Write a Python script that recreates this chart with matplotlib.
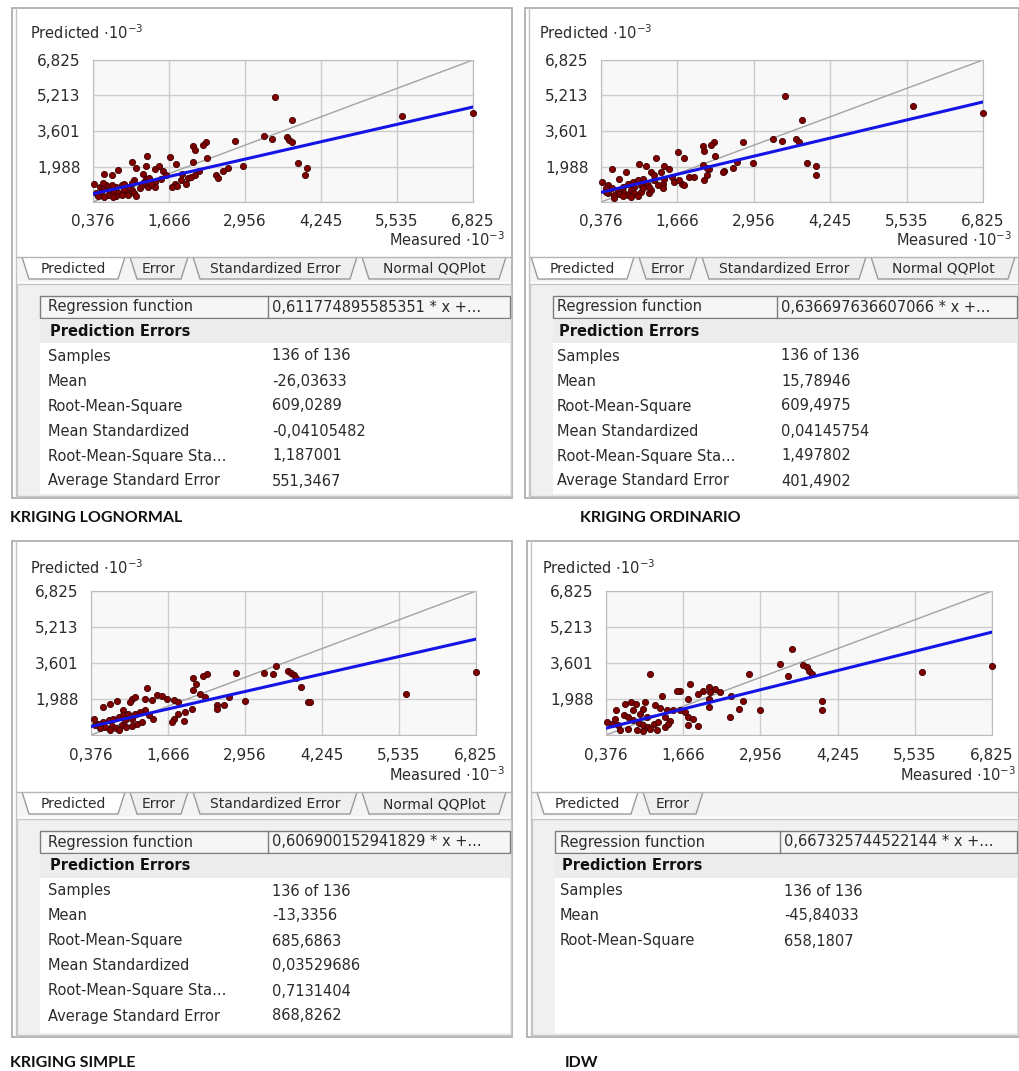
import matplotlib
matplotlib.use("Agg")
import matplotlib.pyplot as plt
from matplotlib.patches import Rectangle, Polygon
import numpy as np

# ---------------- data ----------------
titles = ["KRIGING LOGNORMAL", "KRIGING ORDINARIO", "KRIGING SIMPLE", "IDW"]
x_tick_values = [0.376, 1.666, 2.956, 4.245, 5.535, 6.825]
x_tick_labels = ["0,376", "1,666", "2,956", "4,245", "5,535", "6,825"]
y_tick_values = [0.376, 1.988, 3.601, 5.213, 6.825]
y_tick_labels = ["", "1,988", "3,601", "5,213", "6,825"]

slopes = [0.611774895585351, 0.636697636607066, 0.606900152941829, 0.667325744522144]
intercepts = [0.515, 0.575, 0.53, 0.43]
regression_text = ["0,611774895585351 * x +...", "0,636697636607066 * x +...",
                   "0,606900152941829 * x +...", "0,667325744522144 * x +..."]

row_labels = ["Samples", "Mean", "Root-Mean-Square", "Mean Standardized",
              "Root-Mean-Square Sta...", "Average Standard Error"]
lognormal_values = ["136 of 136", "-26,03633", "609,0289", "-0,04105482", "1,187001", "551,3467"]
ordinario_values = ["136 of 136", "15,78946", "609,4975", "0,04145754", "1,497802", "401,4902"]
simple_values = ["136 of 136", "-13,3356", "685,6863", "0,03529686", "0,7131404", "868,8262"]
idw_values = ["136 of 136", "-45,84033", "658,1807"]

tabs_full = ["Predicted", "Error", "Standardized Error", "Normal QQPlot"]
tabs_idw = ["Predicted", "Error"]

# (measured, predicted) in units of 10^-3
lognormal_points = [
    (3.46, 5.14), (3.76, 4.11), (5.62, 4.26), (6.825, 4.44), (3.27, 3.37), (3.41, 3.24),
    (3.66, 3.31), (3.71, 3.19), (3.75, 3.09), (2.79, 3.15), (2.29, 3.09), (2.25, 2.97),
    (2.07, 2.90), (2.10, 2.72), (2.31, 2.38), (3.86, 2.14), (4.00, 1.94), (3.98, 1.62),
    (2.93, 2.02), (2.66, 1.94), (2.59, 1.80), (2.46, 1.62), (2.49, 1.48), (2.07, 2.17),
    (2.18, 1.77), (2.10, 1.58), (1.98, 1.48), (1.87, 1.36), (1.76, 1.21), (1.71, 1.07),
    (1.79, 2.09), (1.68, 2.41), (1.30, 2.46), (1.03, 2.17), (1.11, 1.92), (1.28, 2.02),
    (1.42, 1.87), (1.50, 2.02), (1.56, 1.80), (0.80, 1.83), (0.57, 1.65), (0.69, 1.62),
    (1.22, 1.65), (1.42, 1.28), (1.42, 1.07), (1.28, 1.43), (1.08, 1.36),
    (0.40, 1.18), (0.49, 1.07), (0.57, 0.99), (0.66, 0.92), (0.74, 0.89), (0.80, 0.80),
    (0.88, 0.85), (0.94, 0.77), (1.03, 0.92), (1.08, 0.80), (1.17, 0.99), (1.20, 1.14),
    (0.97, 1.07), (0.86, 1.14), (0.77, 1.07), (0.69, 1.14), (0.91, 1.21), (1.03, 1.24),
    (0.52, 0.85), (0.43, 0.77), (0.46, 0.63), (0.63, 0.70), (0.77, 0.66), (0.86, 0.70),
    (0.97, 0.70), (1.11, 0.66), (0.72, 0.60), (0.57, 0.60), (1.31, 1.07), (1.36, 1.21),
    (1.25, 1.28), (0.91, 0.95), (0.60, 1.14), (0.55, 1.24), (1.33, 1.48), (1.53, 1.43),
    (1.62, 1.58), (1.89, 1.65), (2.04, 1.53), (1.95, 1.21), (1.81, 1.09),
]
ordinario_points = [
    (3.48, 5.21), (3.77, 4.11), (5.64, 4.73), (6.825, 4.44), (3.28, 3.22), (3.43, 3.15),
    (3.67, 3.24), (3.72, 3.12), (2.78, 3.09), (2.29, 3.09), (2.24, 2.97), (2.09, 2.94),
    (2.12, 2.68), (2.30, 2.46), (3.86, 2.14), (4.00, 2.02), (4.00, 1.62), (2.95, 2.14),
    (2.68, 2.17), (2.60, 1.92), (2.45, 1.80), (2.43, 1.73), (2.09, 2.05), (2.20, 1.87),
    (2.17, 1.62), (2.12, 1.36), (1.95, 1.53), (1.87, 1.50), (1.75, 1.21), (1.78, 1.14),
    (1.67, 2.65), (1.78, 2.36), (1.30, 2.36), (1.02, 2.12), (1.13, 2.02), (1.44, 2.02),
    (1.53, 1.87), (0.57, 1.87), (0.80, 1.73), (1.22, 1.73), (1.39, 1.73), (0.68, 1.43),
    (1.58, 1.50), (1.42, 1.21), (1.42, 0.99), (1.19, 0.77), (0.40, 1.28), (2.17, 1.94),
    (0.49, 1.14), (0.57, 0.99), (0.66, 0.92), (0.74, 1.07), (0.83, 1.21), (0.91, 1.28),
    (1.00, 1.36), (1.08, 1.43), (0.94, 1.07), (1.05, 1.14), (1.16, 1.21), (1.27, 1.36),
    (1.33, 1.14), (0.88, 0.92), (0.77, 0.80), (0.68, 0.74), (0.60, 0.70), (0.49, 0.77),
    (0.46, 0.85), (0.83, 0.70), (0.94, 0.77), (1.05, 0.85), (1.22, 0.92), (0.74, 0.63),
    (0.88, 0.60), (1.00, 0.66), (0.60, 0.55), (0.46, 0.99), (1.08, 0.99), (1.19, 1.07),
    (1.44, 1.43), (1.27, 1.58), (1.61, 1.28), (1.70, 1.36),
]
simple_points = [
    (6.825, 3.21), (5.66, 2.21), (3.48, 3.46), (3.28, 3.16), (3.43, 3.12), (3.67, 3.26),
    (3.72, 3.16), (3.77, 3.06), (3.81, 2.94), (3.89, 2.53), (4.01, 1.84), (4.04, 1.84),
    (2.81, 3.16), (2.32, 3.09), (2.26, 3.01), (2.09, 2.94), (2.13, 2.68), (2.08, 2.38),
    (2.21, 2.21), (2.29, 2.06), (2.95, 1.89), (2.68, 2.06), (2.61, 1.74), (2.49, 1.70),
    (2.49, 1.55), (1.31, 2.47), (1.06, 1.99), (1.03, 1.84), (1.11, 2.06), (1.48, 2.18),
    (1.56, 2.13), (1.65, 1.99), (1.76, 1.94), (1.84, 1.84), (0.81, 1.89), (0.70, 1.77),
    (0.58, 1.62), (1.28, 1.99), (1.39, 1.94), (1.95, 1.40), (2.06, 1.55), (1.84, 1.33),
    (1.76, 1.11), (1.73, 0.96), (1.94, 1.01), (1.42, 1.11), (1.28, 1.50), (0.92, 1.48),
    (0.42, 1.11),
    (0.50, 0.89), (0.58, 0.96), (0.67, 1.03), (0.75, 1.11), (0.84, 1.18), (0.92, 1.26),
    (1.00, 1.30), (1.11, 1.33), (1.20, 1.40), (0.61, 0.74), (0.72, 0.77), (0.80, 0.71),
    (0.89, 0.82), (0.97, 0.74), (1.06, 0.77), (1.14, 0.89), (1.23, 0.96), (0.53, 0.71),
    (0.44, 0.82), (0.70, 0.60), (0.84, 0.60), (0.95, 1.03), (1.06, 1.11), (1.34, 1.26),
]
idw_points = [
    (3.48, 4.23), (3.28, 3.57), (3.66, 3.53), (3.73, 3.41), (3.77, 3.26), (3.81, 3.12),
    (3.42, 3.02), (2.77, 3.09), (1.11, 3.09), (5.65, 3.21), (6.825, 3.46), (3.99, 1.91),
    (3.99, 1.50), (2.95, 1.50), (2.67, 1.91), (2.60, 1.55), (2.44, 1.18), (2.47, 2.13),
    (2.28, 2.28), (2.20, 2.43), (2.09, 2.53), (2.12, 2.28), (2.00, 2.35), (1.92, 2.21),
    (2.09, 1.99), (2.09, 1.62), (1.78, 2.68), (1.75, 1.99), (1.61, 2.33), (1.56, 2.33),
    (1.31, 2.13), (1.75, 1.18), (1.75, 0.82), (1.83, 1.11), (1.92, 0.77), (1.70, 1.40),
    (0.80, 1.84), (0.55, 1.50), (0.69, 1.77), (0.88, 1.77), (1.03, 1.84), (1.19, 1.70),
    (1.28, 1.59), (1.39, 1.48), (1.50, 1.50), (1.61, 1.48), (0.83, 1.48), (0.99, 1.55),
    (0.40, 0.96),
    (0.47, 0.89), (0.58, 0.82), (0.67, 1.26), (0.75, 1.18), (0.83, 1.03), (0.92, 0.92),
    (0.99, 0.82), (1.08, 0.74), (1.17, 0.89), (1.25, 0.96), (1.36, 1.18), (1.45, 1.01),
    (0.61, 0.60), (0.75, 0.63), (0.89, 0.60), (0.99, 0.57), (1.11, 0.63), (1.22, 0.60),
    (1.36, 0.74), (1.42, 0.89), (0.95, 1.33), (1.06, 1.18), (0.53, 1.11),
]

# ---------------- layout ----------------
W, H = 1019, 1071
fig = plt.figure(figsize=(W / 100, H / 100), dpi=100)
fig.patch.set_facecolor("white")
bg = fig.add_axes([0, 0, 1, 1])
bg.set_xlim(0, W)
bg.set_ylim(H, 0)
bg.axis("off")

FONT = "DejaVu Sans"
TXT = "#2b2b2b"


def pax(l, t, r, b):
    return fig.add_axes([l / W, 1 - b / H, (r - l) / W, (b - t) / H])


panels = [
    dict(points=lognormal_points, values=lognormal_values, tabs=tabs_full,
         win=(12, 8, 512, 498), off=(0, 0), plot=(93, 60, 473, 202),
         title_xy=(10, 518), mright=505,
         tab_x=[(22, 125), (130, 188), (193, 357), (362, 506)]),
    dict(points=ordinario_points, values=ordinario_values, tabs=tabs_full,
         win=(525, 8, 1019, 498), off=(509, 0), plot=(601, 60, 983, 202),
         title_xy=(580, 518), mright=1012,
         tab_x=[(531, 634), (639, 697), (702, 866), (871, 1015)]),
    dict(points=simple_points, values=simple_values, tabs=tabs_full,
         win=(12, 541, 512, 1037), off=(0, 535), plot=(91, 591, 476, 735),
         title_xy=(10, 1063), mright=505,
         tab_x=[(22, 125), (130, 188), (193, 357), (362, 506)]),
    dict(points=idw_points, values=idw_values, tabs=tabs_idw,
         win=(527, 541, 1019, 1037), off=(512, 535), plot=(606, 591, 992, 735),
         title_xy=(565, 1063), mright=1016,
         tab_x=[(537, 638), (643, 703)]),
]

for i, p in enumerate(panels):
    wl, wt, wr, wb = p["win"]
    dx, dy = p["off"]
    # window frame
    bg.add_patch(Rectangle((wl, wt), wr - wl, wb - wt, facecolor="white",
                           edgecolor="#a8a8a8", lw=1.2))
    bg.plot([wl + 4, wl + 4], [wt, wb], color="#c4c4c4", lw=1)
    # tab strip
    ty0, ty1 = 257 + dy, 279 + dy
    bg.add_patch(Rectangle((wl + 5, ty0), wr - wl - 6, ty1 - ty0 + 3,
                           facecolor="#f4f4f4", edgecolor="none"))
    bg.plot([wl + 5, wr], [ty0, ty0], color="#b5b5b5", lw=1)
    for k, (name, (xl, xr)) in enumerate(zip(p["tabs"], p["tab_x"])):
        fc = "white" if k == 0 else "#efefef"
        poly = Polygon([(xl, ty0), (xl + 7, ty1), (xr - 7, ty1), (xr, ty0)],
                       closed=False, facecolor=fc, edgecolor="#9a9a9a", lw=1)
        bg.add_patch(poly)
        bg.text((xl + xr) / 2, (ty0 + ty1) / 2 + 1, name, ha="center", va="center",
                fontsize=10, family=FONT, color=TXT)
    # table area
    tt = 284 + dy
    bg.add_patch(Rectangle((wl + 5, tt), wr - wl - 6, wb - tt - 2,
                           facecolor="#f0f0f0", edgecolor="#c8c8c8", lw=1))
    bg.add_patch(Rectangle((wl + 28, 296 + dy), wr - wl - 30, wb - 300 - dy,
                           facecolor="white", edgecolor="none"))
    bg.add_patch(Rectangle((wl + 28, 320 + dy), wr - wl - 30, 23,
                           facecolor="#ececec", edgecolor="none"))
    bg.add_patch(Rectangle((wl + 28, 296 + dy), wr - wl - 30, 22,
                           facecolor="#f6f6f6", edgecolor="#7d7d7d", lw=1))
    bg.plot([268 + dx, 268 + dx], [296 + dy, 318 + dy], color="#7d7d7d", lw=1)
    bg.text(48 + dx, 307 + dy, "Regression function", va="center", fontsize=10.5,
            family=FONT, color=TXT)
    bg.text(272 + dx, 307 + dy, regression_text[i], va="center", fontsize=10.5,
            family=FONT, color=TXT)
    bg.text(50 + dx, 331 + dy, "Prediction Errors", va="center", fontsize=10.5,
            family=FONT, color="#111111", fontweight="bold")
    for r, val in enumerate(p["values"]):
        y = 356 + 25 * r + dy
        bg.text(48 + dx, y, row_labels[r], va="center", fontsize=10.5, family=FONT, color=TXT)
        bg.text(272 + dx, y, val, va="center", fontsize=10.5, family=FONT, color=TXT)
    # axis titles
    bg.text(30 + dx, 33 + dy, "Predicted $\\cdot$10$^{-3}$", va="center", fontsize=10.5,
            family=FONT, color=TXT)
    bg.text(p["mright"], 240 + dy, "Measured $\\cdot$10$^{-3}$", va="center", ha="right",
            fontsize=10.5, family=FONT, color=TXT)
    # panel caption
    bg.text(p["title_xy"][0], p["title_xy"][1], titles[i], va="center", fontsize=11.5,
            family="Lato", fontweight="bold", color="#111111")

    # scatter plot
    ax = pax(*p["plot"])
    ax.set_facecolor("#f8f8f8")
    ax.set_xlim(x_tick_values[0], x_tick_values[-1])
    ax.set_ylim(y_tick_values[0], y_tick_values[-1])
    ax.set_xticks(x_tick_values)
    ax.set_xticklabels(x_tick_labels)
    ax.set_yticks(y_tick_values)
    ax.set_yticklabels(y_tick_labels)
    ax.tick_params(length=0, labelsize=11, colors=TXT)
    ax.tick_params(axis="x", pad=9)
    ax.tick_params(axis="y", pad=9)
    ax.grid(True, color="#cdcdcd", lw=1)
    ax.set_axisbelow(True)
    for s in ax.spines.values():
        s.set_color("#bcbcbc")
    lims = np.array([x_tick_values[0], x_tick_values[-1]])
    ax.plot(lims, lims, color="#a3a3a3", lw=1, zorder=2)
    pts = np.array(p["points"])
    ax.scatter(pts[:, 0], pts[:, 1], s=20, color="#800000", edgecolors="#3c0000",
               linewidths=0.6, zorder=3, clip_on=False)
    ax.plot(lims, slopes[i] * lims + intercepts[i], color="#1414e6", lw=2.2, zorder=4)

fig.savefig("out.png", dpi=100, facecolor="white")
